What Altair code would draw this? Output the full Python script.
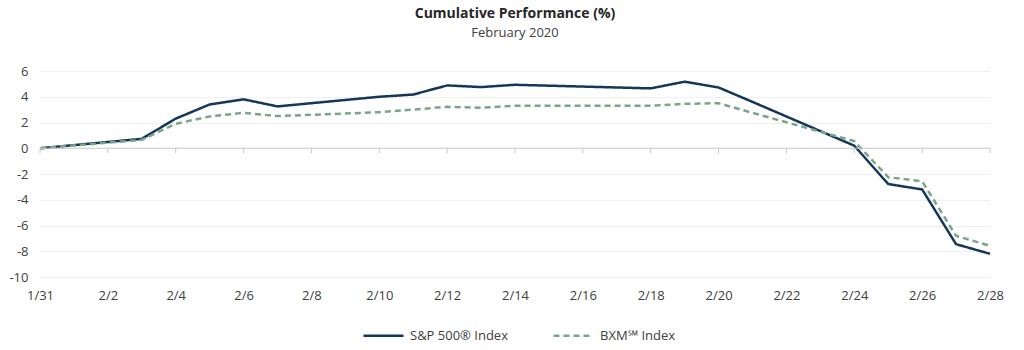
import altair as alt
import pandas as pd

dates = ["2020-01-31", "2020-02-03", "2020-02-04", "2020-02-05", "2020-02-06", "2020-02-07",
         "2020-02-10", "2020-02-11", "2020-02-12", "2020-02-13", "2020-02-14", "2020-02-18",
         "2020-02-19", "2020-02-20", "2020-02-21", "2020-02-24", "2020-02-25", "2020-02-26",
         "2020-02-27", "2020-02-28"]
sp500 = [0.0, 0.73, 2.3, 3.4, 3.8, 3.25, 4.0, 4.17, 4.88, 4.75, 4.93, 4.65, 5.17, 4.72,
         3.6, 0.2, -2.78, -3.2, -7.45, -8.2]
bxm = [0.0, 0.65, 1.9, 2.47, 2.75, 2.5, 2.8, 3.0, 3.22, 3.15, 3.3, 3.3, 3.45, 3.5,
       2.75, 0.55, -2.25, -2.57, -6.8, -7.58]
series_names = ["S&P 500® Index", "BXM℠ Index"]
tick_dates = ["2020-01-31", "2020-02-02", "2020-02-04", "2020-02-06", "2020-02-08", "2020-02-10",
              "2020-02-12", "2020-02-14", "2020-02-16", "2020-02-18", "2020-02-20", "2020-02-22",
              "2020-02-24", "2020-02-26", "2020-02-28"]
y_ticks = [-10, -8, -6, -4, -2, 0, 2, 4, 6]

rows = []
for d, a, b in zip(dates, sp500, bxm):
    rows.append({"date": d + "T00:00:00", "series": series_names[0], "value": a})
    rows.append({"date": d + "T00:00:00", "series": series_names[1], "value": b})
df = pd.DataFrame(rows)
ticks_df = pd.DataFrame({"date": [t + "T00:00:00" for t in tick_dates]})

FONT = "Open Sans"
x_scale = alt.Scale(domain=[alt.DateTime(year=2020, month=1, date=31),
                            alt.DateTime(year=2020, month=2, date=28)])
y_scale = alt.Scale(domain=[-10, 6], nice=False)

x_axis = alt.Axis(values=[alt.DateTime(year=int(t[:4]), month=int(t[5:7]), date=int(t[8:10])) for t in tick_dates],
                  format="%-m/%-d", domain=False, ticks=False, grid=False, labelPadding=12,
                  labelFlush=False, labelOverlap=False,
                  labelFontSize=13, labelColor="#404040", labelFont=FONT, title=None)
y_axis = alt.Axis(values=y_ticks, domain=False, ticks=False,
                  labelExpr="datum.value < 0 ? '-' + abs(datum.value) : '' + datum.value",
                  labelOverlap=False, labelFlush=False,
                  gridColor="#f0f0f0", gridWidth=1, labelPadding=12, labelFontSize=13,
                  labelColor="#404040", labelFont=FONT, title=None)

lines = alt.Chart(df).mark_line(strokeWidth=2.5).encode(
    x=alt.X("date:T", scale=x_scale, axis=x_axis),
    y=alt.Y("value:Q", scale=y_scale, axis=y_axis),
    color=alt.Color("series:N", scale=alt.Scale(domain=series_names, range=["#14375a", "#7aa58a"]),
                    legend=alt.Legend(title=None, orient="none", direction="horizontal",
                                      legendX=322, legendY=243, symbolType="stroke",
                                      symbolSize=1600, symbolStrokeWidth=2.5, labelFontSize=13,
                                      labelColor="#404040", labelFont=FONT, columnPadding=40,
                                      labelOffset=5)),
    strokeDash=alt.StrokeDash("series:N", scale=alt.Scale(domain=series_names, range=[[1, 0], [6, 4]]),
                              legend=None),
    order=alt.Order("series:N"),
)

zero = alt.Chart(pd.DataFrame({"v": [0]})).mark_rule(color="#c8c8c8", strokeWidth=1).encode(
    y=alt.Y("v:Q", scale=y_scale, axis=y_axis)
)
tick_marks = alt.Chart(ticks_df).mark_rule(color="#c8c8c8", strokeWidth=1).encode(
    x=alt.X("date:T", scale=x_scale, axis=x_axis),
    y=alt.YDatum(0, type="quantitative", scale=y_scale, axis=y_axis),
    y2=alt.datum(-0.4),
)

chart = alt.layer(lines, zero, tick_marks).properties(
    width=950, height=206,
    padding={"left": 40, "top": 71, "right": 34, "bottom": 73},
    autosize=alt.AutoSizeParams(type="none"),
    title=alt.TitleParams("Cumulative Performance (%)", subtitle="February 2020",
                          font=FONT, fontSize=14, fontWeight="bold", color="#262626",
                          subtitleFont=FONT, subtitleFontSize=13, subtitleColor="#404040",
                          anchor="middle", offset=25, subtitlePadding=6),
).configure_view(stroke=None)

chart.save("out.html", embed_options={"renderer": "svg", "actions": False})
